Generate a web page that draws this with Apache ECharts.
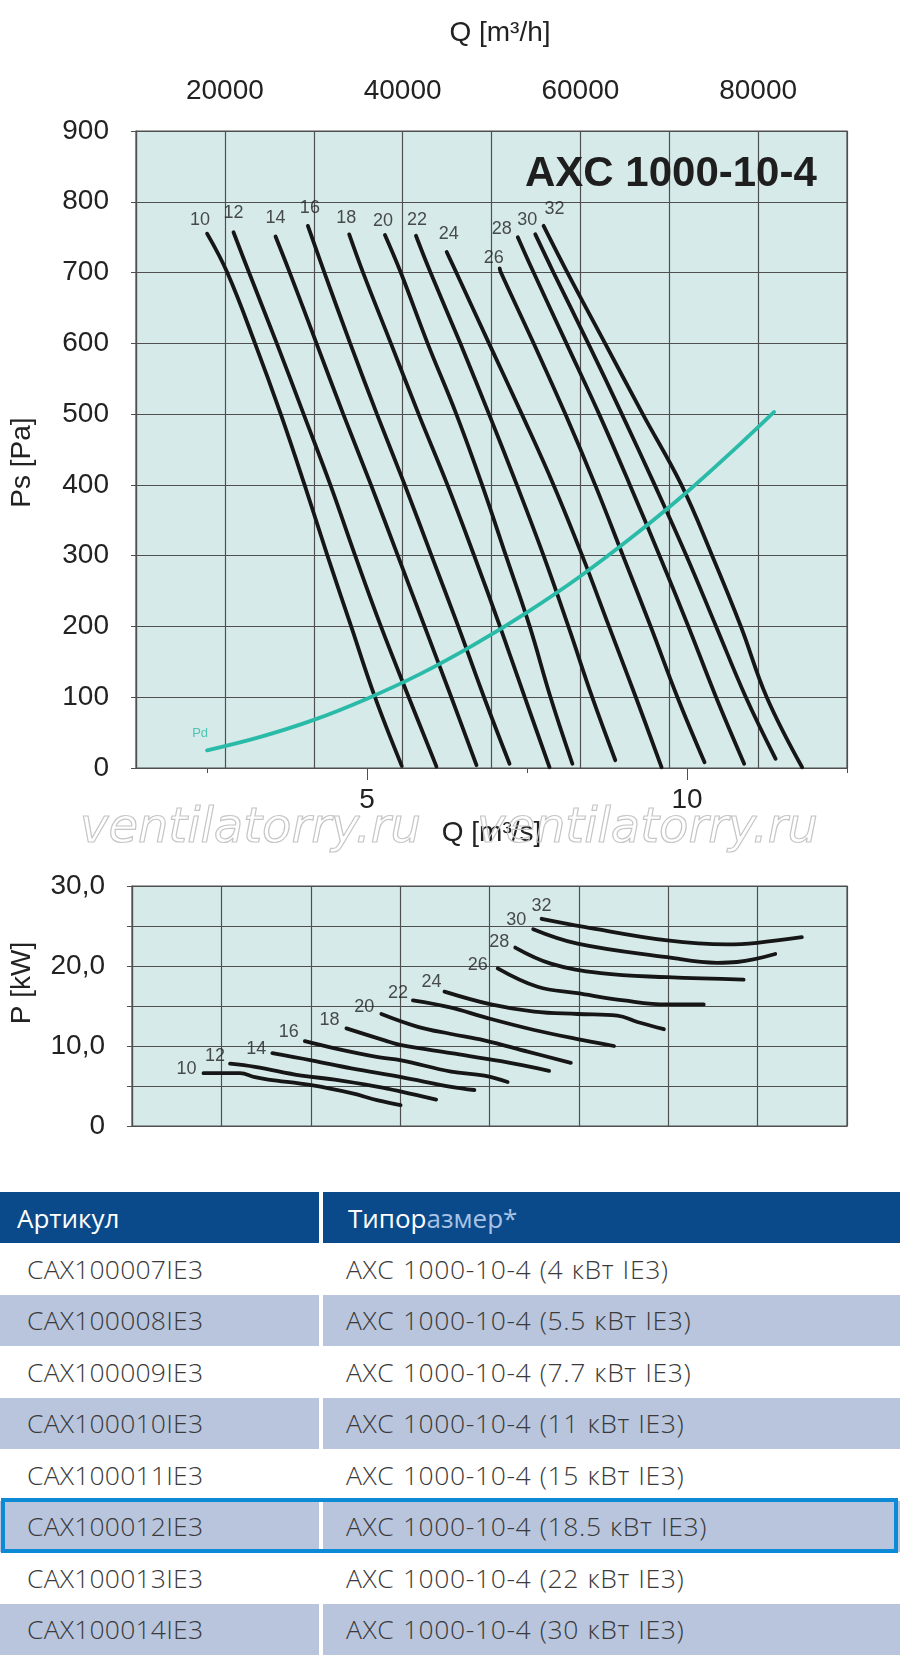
<!DOCTYPE html>
<html><head><meta charset="utf-8">
<script src="https://cdn.jsdelivr.net/npm/echarts@6/dist/echarts.min.js"></script>
<style>
html,body{margin:0;padding:0;background:#fff;}
#chart{position:absolute;left:0;top:0;width:900px;height:1180px;}
#tbl{position:absolute;left:0;top:0;width:900px;height:1655px;}
.cell{position:absolute;box-sizing:border-box;font-family:'Open Sans',sans-serif;font-weight:300;font-size:26.5px;letter-spacing:0.6px;word-spacing:1px;color:#3a3a3a;display:flex;align-items:center;white-space:nowrap;}
</style></head><body>
<div id="chart"></div>
<div id="tbl"></div>
<script>
// ---------- DATA ----------
const sizes = [10, 12, 14, 16, 18, 20, 22, 24, 26, 28, 30, 32];

// Static pressure curves: [Q m3/h, Ps Pa]
const ps10 = [[18000,755],[20270,700],[23390,600],[26290,500],[28970,400],[31540,300],[34210,200],[36890,100],[39900,3]];
const ps12 = [[20970,757],[22720,700],[25840,600],[28860,500],[31870,400],[34660,300],[37560,200],[40690,100],[43810,2]];
const ps14 = [[25700,751],[27300,700],[30310,600],[33320,500],[36440,400],[39460,300],[42470,200],[45480,100],[48310,4]];
const ps16 = [[29340,766],[31200,700],[34100,600],[37110,500],[40240,400],[43250,300],[46260,200],[49160,100],[52030,6]];
const ps18 = [[33990,754],[35550,700],[38680,600],[41800,500],[45040,400],[48050,300],[50950,200],[53740,100],[56530,1]];
const ps20 = [[38010,753],[39790,700],[42810,600],[46040,500],[48940,400],[51620,300],[54300,200],[56640,100],[59100,6]];
const ps22 = [[41500,752],[43140,700],[46490,600],[49720,500],[52850,400],[55860,300],[58650,200],[61330,100],[63930,11]];
const ps24 = [[44960,729],[46040,700],[49720,600],[53410,500],[56980,400],[60210,300],[63220,200],[66240,100],[69140,1]];
const ps26 = [[50920,706],[51060,700],[54740,600],[58310,500],[61660,400],[64790,300],[67910,200],[70920,100],[73970,8]];
const ps28 = [[52960,750],[54740,700],[58430,600],[62110,500],[65570,400],[68910,300],[72150,200],[75270,100],[78430,6]];
const ps30 = [[54930,754],[56980,700],[60880,600],[64670,500],[68360,400],[71930,300],[75270,200],[78620,100],[81970,13]];
const ps32 = [[55860,766],[58540,700],[62780,600],[67020,500],[71370,400],[74830,300],[78060,200],[80970,100],[84950,1]];

// Dynamic pressure Pd: [Q m3/h, Pa]
const pd = [[18000,25],[24000,44],[30000,68],[36000,98],[42000,133],[48000,174],[54000,220],[60000,271],[66000,328],[72000,390],[78000,458],[81800,503]];

// Power curves: [Q m3/h, P kW]
const p10 = [[18000,6.6],[22080,6.6],[23760,6.1],[25250,5.8],[30080,5.1],[34550,4.1],[37530,3.2],[40050,2.6]];
const p12 = [[20970,7.8],[23760,7.4],[28970,6.3],[32680,5.8],[37530,4.9],[40130,4.3],[44030,3.3]];
const p14 = [[25700,9.1],[30080,8.2],[34550,7.2],[40130,6.1],[45710,4.9],[48310,4.5]];
const p16 = [[29340,10.6],[32680,9.7],[37530,8.6],[40130,8.2],[45710,6.8],[49420,6.3],[52030,5.5]];
const p18 = [[33990,12.2],[38260,10.7],[40130,10.1],[45710,9.1],[51290,8.1],[56670,6.9]];
const p20 = [[37900,14.0],[41990,12.4],[45710,11.5],[49420,10.7],[54260,9.3],[59100,7.9]];
const p22 = [[41430,15.7],[45710,14.8],[49420,13.6],[55000,12.0],[60580,10.7],[63930,10.0]];
const p24 = [[44960,16.8],[50170,15.2],[55000,14.3],[59840,14.0],[64310,13.8],[66540,13.0],[69510,12.1]];
const p26 = [[50920,19.7],[55380,17.4],[59840,16.6],[65040,15.7],[69890,15.2],[73970,15.2]];
const p28 = [[52880,22.3],[56860,20.3],[62440,19.1],[69890,18.6],[78430,18.3]];
const p30 = [[54890,24.6],[59840,22.8],[69890,21.1],[75460,20.4],[77700,20.5],[81970,21.5]];
const p32 = [[55830,25.9],[60580,24.9],[69890,23.2],[76580,22.7],[79930,22.9],[84950,23.6]];

// Axis tick labels
const qhLabelled = [20000, 40000, 60000, 80000];
const qsLabelled = [5, 10];
const qsMinor = [2.5, 7.5, 12.5];
const pLabelled = [0, 10, 20, 30];

// Table
const articles = ['CAX100007IE3','CAX100008IE3','CAX100009IE3','CAX100010IE3','CAX100011IE3','CAX100012IE3','CAX100013IE3','CAX100014IE3'];
const models = ['AXC 1000-10-4 (4 кВт IE3)','AXC 1000-10-4 (5.5 кВт IE3)','AXC 1000-10-4 (7.7 кВт IE3)','AXC 1000-10-4 (11 кВт IE3)','AXC 1000-10-4 (15 кВт IE3)','AXC 1000-10-4 (18.5 кВт IE3)','AXC 1000-10-4 (22 кВт IE3)','AXC 1000-10-4 (30 кВт IE3)'];
const highlightedRow = 5;

// ---------- STYLE ----------
const psCurves = [ps10, ps12, ps14, ps16, ps18, ps20, ps22, ps24, ps26, ps28, ps30, ps32];
const pCurves = [p10, p12, p14, p16, p18, p20, p22, p24, p26, p28, p30, p32];
const psLabelOffsets = [[-7,-14],[0,-19],[0,-18],[2,-18],[-3,-16],[-2,-14],[1,-16],[2,-18],[-6,-10],[-16,-8],[-8,-14],[11,-17]];
const pLabelOffsets = [[-17,-4],[-15,-8],[-16,-4],[-16,-9],[-17,-8],[-17,-7],[-15,-7],[-13,-10],[-20,-3],[-16,-6],[-17,-9],[0,-13]];

const FONT = "'Liberation Sans', Arial, sans-serif";
const GRIDC = '#4f4f4f';
const BG = '#d6eae9';
const TEAL = '#29bba8';
const CURVE = '#161616';
const TXT = '#222';

const lineSeries = (data, xi, yi, color) => ({
  type: 'line', xAxisIndex: xi, yAxisIndex: yi, data: data,
  smooth: 0.4, showSymbol: false, symbol: 'none', clip: false, silent: true, z: 3,
  lineStyle: { color: color, width: 3.8, cap: 'round' }
});

const labelSeries = (curves, offsets, xi, yi) => ({
  type: 'scatter', xAxisIndex: xi, yAxisIndex: yi, symbolSize: 1, silent: true, z: 5,
  itemStyle: { color: 'rgba(0,0,0,0)' },
  label: { show: true, position: 'inside', formatter: p => p.value[2], fontSize: 18, color: TXT, fontFamily: FONT },
  data: sizes.map((s, i) => ({ value: [curves[i][0][0], curves[i][0][1], s], label: { offset: offsets[i] } }))
});

const series = [];
psCurves.forEach(c => series.push(lineSeries(c, 0, 0, CURVE)));
series.push(lineSeries(pd, 0, 0, TEAL));
series.push(labelSeries(psCurves, psLabelOffsets, 0, 0));
series.push({
  type: 'scatter', xAxisIndex: 0, yAxisIndex: 0, symbolSize: 1, silent: true, z: 5,
  itemStyle: { color: 'rgba(0,0,0,0)' },
  label: { show: true, position: 'inside', formatter: 'Pd', fontSize: 13, color: TEAL, fontFamily: FONT, offset: [-7, -17] },
  data: [pd[0]]
});
pCurves.forEach(c => series.push(lineSeries(c, 3, 1, CURVE)));
series.push(labelSeries(pCurves, pLabelOffsets, 3, 1));

const axisLineS = { show: true, lineStyle: { color: GRIDC, width: 1.2 } };
const splitS = { show: true, lineStyle: { color: GRIDC, width: 1.2 } };
const nameS = { fontFamily: FONT, fontSize: 28, color: TXT };

const qsMin = 10000 / 7200, qsMax = 12.5;

const option = {
  animation: false,
  title: { text: 'AXC 1000-10-4', left: 525, top: 153, padding: 0,
    textStyle: { fontFamily: FONT, fontSize: 42, fontWeight: 'bold', color: '#1e1e1e' } },
  grid: [
    { left: 130, top: 131, width: 717, height: 637, show: true, backgroundColor: BG, borderColor: GRIDC, borderWidth: 1.2 },
    { left: 130, top: 886, width: 717, height: 240, show: true, backgroundColor: BG, borderColor: GRIDC, borderWidth: 1.2 }
  ],
  xAxis: [
    { gridIndex: 0, type: 'value', position: 'top', min: 10000, max: 90000, interval: 10000,
      name: 'Q [m³/h]', nameLocation: 'middle', nameGap: 84,
      nameTextStyle: Object.assign({ padding: [0, 0, 0, 17] }, nameS),
      axisLine: axisLineS, axisTick: { show: true, length: 8, lineStyle: { color: GRIDC } },
      axisLabel: { fontFamily: FONT, fontSize: 28, color: TXT, margin: 26, showMinLabel: true, showMaxLabel: true,
        formatter: v => qhLabelled.includes(v) ? String(v) : '' },
      splitLine: splitS },
    { gridIndex: 0, type: 'value', position: 'bottom', min: qsMin, max: qsMax,
      name: 'Q [m³/s]', nameLocation: 'middle', nameGap: 51, nameTextStyle: nameS,
      axisLine: axisLineS,
      axisTick: { show: true, length: 12, customValues: qsLabelled, lineStyle: { color: GRIDC } },
      axisLabel: { show: true, customValues: qsLabelled, fontFamily: FONT, fontSize: 28, color: TXT, margin: 18 },
      splitLine: { show: false } },
    { gridIndex: 0, type: 'value', position: 'bottom', min: qsMin, max: qsMax,
      axisLine: { show: false },
      axisTick: { show: true, length: 5, customValues: qsMinor, lineStyle: { color: GRIDC } },
      axisLabel: { show: false }, splitLine: { show: false } },
    { gridIndex: 1, type: 'value', position: 'bottom', min: 10000, max: 90000, interval: 10000,
      axisLine: axisLineS, axisTick: { show: false }, axisLabel: { show: false }, splitLine: splitS }
  ],
  yAxis: [
    { gridIndex: 0, type: 'value', min: 0, max: 900, interval: 100,
      name: 'Ps [Pa]', nameLocation: 'middle', nameGap: 100, nameRotate: 90,
      nameTextStyle: Object.assign({ padding: [0, 26, 0, 0] }, nameS),
      axisLine: axisLineS, axisTick: { show: true, length: 5, lineStyle: { color: GRIDC } },
      axisLabel: { fontFamily: FONT, fontSize: 28, color: TXT, margin: 27 },
      splitLine: splitS },
    { gridIndex: 1, type: 'value', min: 0, max: 30, interval: 5,
      name: 'P [kW]', nameLocation: 'middle', nameGap: 96, nameRotate: 90,
      nameTextStyle: Object.assign({ padding: [0, 0, 0, 46] }, nameS),
      axisLine: axisLineS, axisTick: { show: true, length: 5, lineStyle: { color: GRIDC } },
      axisLabel: { fontFamily: FONT, fontSize: 28, color: TXT, margin: 27,
        formatter: v => !pLabelled.includes(v) ? '' : (v === 0 ? '0' : v.toFixed(1).replace('.', ',')) },
      splitLine: splitS }
  ],
  graphic: [
    { type: 'text', x: 80, y: 830, silent: true, z: 50,
      style: { text: 'ventilatorry.ru', font: 'italic 48px "DejaVu Sans"', fill: 'rgba(255,255,255,0)', stroke: '#c6c6c6', lineWidth: 1.2, verticalAlign: 'middle' } },
    { type: 'text', x: 477, y: 830, silent: true, z: 50,
      style: { text: 'ventilatorry.ru', font: 'italic 48px "DejaVu Sans"', fill: 'rgba(255,255,255,0)', stroke: '#c6c6c6', lineWidth: 1.2, verticalAlign: 'middle' } }
  ],
  series: series
};

const chart = echarts.init(document.getElementById('chart'), null, { renderer: 'canvas' });
chart.setOption(option);

// ---------- TABLE ----------
const tbl = document.getElementById('tbl');
function cell(x, y, w, h, bg, html, padL, extraStyle) {
  const d = document.createElement('div');
  d.className = 'cell';
  d.style.cssText = `left:${x}px;top:${y}px;width:${w}px;height:${h}px;background:${bg};padding-left:${padL}px;` + (extraStyle || '');
  d.innerHTML = html;
  tbl.appendChild(d);
}
const HEAD = '#0b4a8a';
cell(0, 1192, 319, 51, HEAD, 'Артикул', 17, 'color:#fff;font-weight:400;font-size:26px;letter-spacing:0;word-spacing:0;');
cell(323, 1192, 577, 51, HEAD, '<span style="color:#fff">Типор</span><span style="color:#a9c3e6">азмер*</span>', 25, 'font-weight:400;font-size:26px;letter-spacing:0;word-spacing:0;');
const ROW_H = 51.5, ROW0 = 1243;
articles.forEach((a, i) => {
  const y = ROW0 + i * ROW_H;
  const bg = i % 2 === 1 ? '#b8c5dd' : '#ffffff';
  cell(0, y, 319, ROW_H, bg, a, 27, 'letter-spacing:0.2px;');
  cell(323, y, 577, ROW_H, bg, models[i], 23);
});
const hl = document.createElement('div');
hl.style.cssText = `position:absolute;left:1px;top:${ROW0 + highlightedRow * ROW_H - 3}px;width:897px;height:${ROW_H + 4}px;box-sizing:border-box;border:4px solid #0c8ad6;`;
tbl.appendChild(hl);
</script>
</body></html>
